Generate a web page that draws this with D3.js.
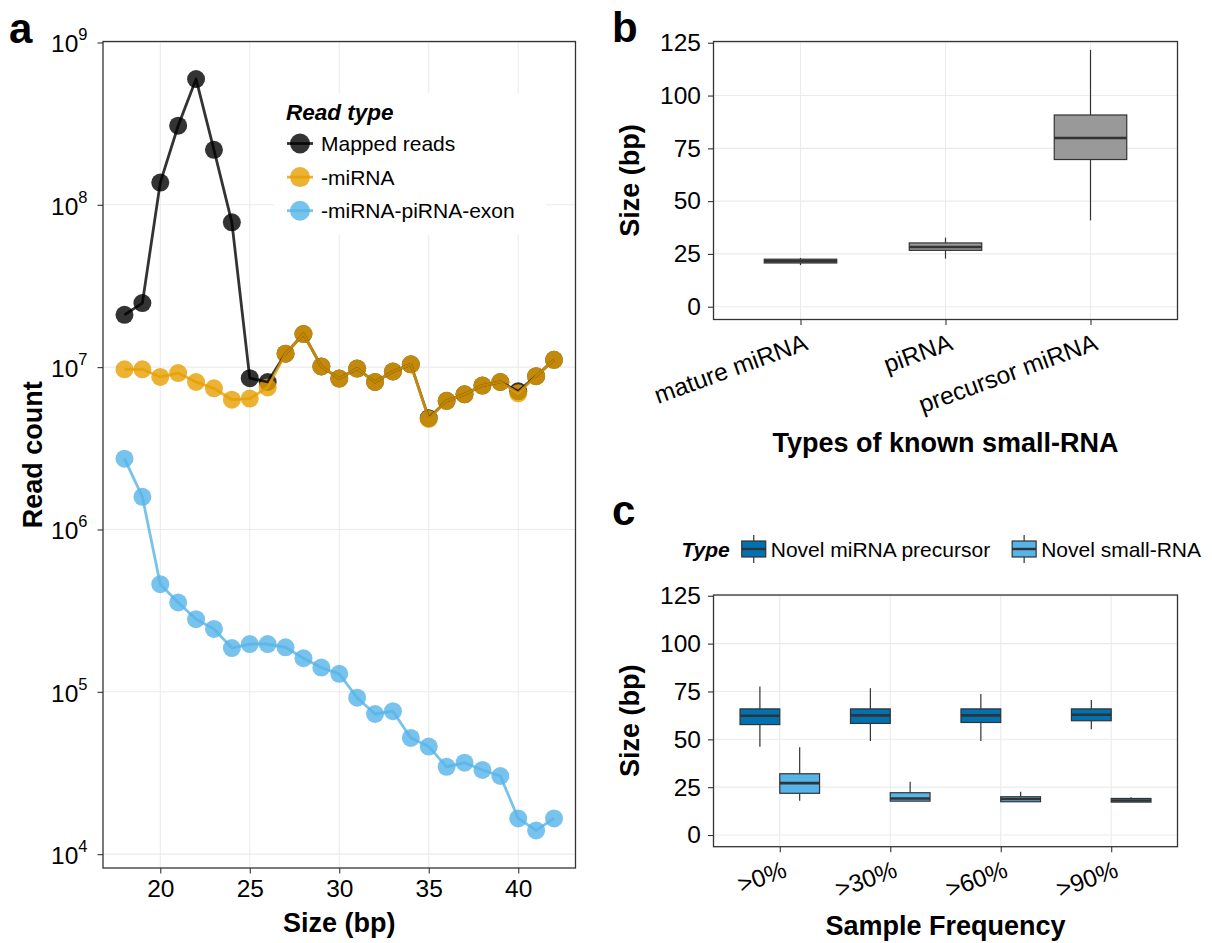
<!DOCTYPE html>
<html>
<head>
<meta charset="utf-8">
<script src="https://cdn.jsdelivr.net/npm/d3@7"></script>
<style>
body { margin: 0; background: #fff; }
svg { display: block; font-family: "Liberation Sans", Arial, Helvetica, sans-serif; }
</style>
</head>
<body>
<div id="chart"></div>
<script>
// panel a: read length distribution
const readSizes = [18, 19, 20, 21, 22, 23, 24, 25, 26, 27, 28, 29, 30, 31, 32, 33, 34, 35, 36, 37, 38, 39, 40, 41, 42]
const mappedReads = [2.1e7, 2.48e7, 1.37e8, 3.07e8, 5.95e8, 2.18e8, 7.8e7, 8.55e6, 8.1e6, 1.21e7, 1.6e7, 1.01e7, 8.5e6, 9.8e6, 8.1e6, 9.4e6, 1.04e7, 4.85e6, 6.2e6, 6.8e6, 7.7e6, 8.1e6, 7.1e6, 8.8e6, 1.11e7]
const minusMiRNA = [9.7e6, 9.7e6, 8.7e6, 9.2e6, 8.1e6, 7.4e6, 6.3e6, 6.4e6, 7.5e6, 1.21e7, 1.6e7, 1.01e7, 8.5e6, 9.8e6, 8.1e6, 9.4e6, 1.04e7, 4.8e6, 6.2e6, 6.8e6, 7.7e6, 8.1e6, 6.9e6, 8.8e6, 1.11e7]
const minusMiRNAPiRNAExon = [2.73e6, 1.59e6, 4.6e5, 3.55e5, 2.8e5, 2.44e5, 1.86e5, 1.97e5, 1.97e5, 1.88e5, 1.61e5, 1.41e5, 1.29e5, 9.2e4, 7.3e4, 7.6e4, 5.2e4, 4.6e4, 3.45e4, 3.66e4, 3.3e4, 3.03e4, 1.66e4, 1.4e4, 1.66e4]
const readTypeNames = ['Mapped reads', '-miRNA', '-miRNA-piRNA-exon']
const readTypeColors = ['#000000', '#E69F00', '#56B4E9']
const sizeTicks = [20, 25, 30, 35, 40]
const countTicks = [1e4, 1e5, 1e6, 1e7, 1e8, 1e9]

// panel b: known small RNA sizes [whisker low, q1, median, q3, whisker high]
const knownTypes = ['mature miRNA', 'piRNA', 'precursor miRNA']
const knownStats = [
    [19.7, 20.7, 21.6, 22.5, 23.1],
    [22.8, 26.7, 28.3, 30.2, 32.7],
    [40.9, 69.7, 79.9, 90.8, 121.6]
]
const bpTicks = [0, 25, 50, 75, 100, 125]

// panel c: novel small RNA sizes by sample frequency
const freqLabels = ['>0%', '>30%', '>60%', '>90%']
const novelTypes = ['Novel miRNA precursor', 'Novel small-RNA']
const novelColors = ['#0072B2', '#56B4E9']
const novelPrecursorStats = [
    [46.1, 57.7, 62.3, 65.9, 77.6],
    [49.1, 58.3, 62.5, 65.9, 76.7],
    [49.1, 58.8, 62.5, 65.9, 73.7],
    [55.2, 59.7, 62.8, 65.9, 70.6]
]
const novelSmallStats = [
    [17.9, 21.8, 27.1, 32.0, 45.8],
    [17.7, 17.7, 19.1, 22.1, 27.8],
    [17.4, 17.4, 18.8, 20.0, 22.6],
    [17.2, 17.2, 18.0, 19.1, 19.7]
]

const W = 1212, H = 943
const GRID = '#ebebeb', INK = '#333333'
const TICK_FS = 24.5, TITLE_FS = 27, LEG_FS = 21

const svg = d3.select('#chart').append('svg')
    .attr('width', W).attr('height', H)
    .attr('viewBox', `0 0 ${W} ${H}`)

function styleAxis(g) {
    g.attr('font-size', null).attr('font-family', null)
    g.select('.domain').remove()
    g.selectAll('.tick line').attr('stroke', INK).attr('stroke-width', 1.1)
    g.selectAll('.tick text').attr('fill', '#000').attr('font-size', TICK_FS)
}

function frame(g, box) {
    g.append('rect')
        .attr('x', box.left).attr('y', box.top)
        .attr('width', box.right - box.left).attr('height', box.bottom - box.top)
        .attr('fill', 'none').attr('stroke', INK).attr('stroke-width', 1.3)
}

function gridLines(g, box, xs, ys) {
    g.selectAll(null).data(xs).enter().append('line')
        .attr('x1', d => d).attr('x2', d => d).attr('y1', box.top).attr('y2', box.bottom)
        .attr('stroke', GRID).attr('stroke-width', 1.1)
    g.selectAll(null).data(ys).enter().append('line')
        .attr('y1', d => d).attr('y2', d => d).attr('x1', box.left).attr('x2', box.right)
        .attr('stroke', GRID).attr('stroke-width', 1.1)
}

function panelLabel(text, x, y) {
    svg.append('text').attr('x', x).attr('y', y)
        .attr('font-size', 42).attr('font-weight', 'bold').text(text)
}

function boxplot(g, cx, w, s, y, fill) {
    g.append('line').attr('x1', cx).attr('x2', cx).attr('y1', y(s[0])).attr('y2', y(s[1]))
        .attr('stroke', INK).attr('stroke-width', 1.2)
    g.append('line').attr('x1', cx).attr('x2', cx).attr('y1', y(s[3])).attr('y2', y(s[4]))
        .attr('stroke', INK).attr('stroke-width', 1.2)
    g.append('rect').attr('x', cx - w / 2).attr('width', w)
        .attr('y', y(s[3])).attr('height', Math.max(0, y(s[1]) - y(s[3])))
        .attr('fill', fill).attr('stroke', INK).attr('stroke-width', 1.2)
    g.append('line').attr('x1', cx - w / 2).attr('x2', cx + w / 2)
        .attr('y1', y(s[2])).attr('y2', y(s[2]))
        .attr('stroke', INK).attr('stroke-width', 2.6)
}

// ---------------- panel a ----------------
const boxA = { left: 103, right: 575.5, top: 41.5, bottom: 868 }
const gA = svg.append('g')

const xExt = d3.extent(readSizes)
const xPad = (xExt[1] - xExt[0]) * 0.05
const xA = d3.scaleLinear().domain([xExt[0] - xPad, xExt[1] + xPad]).range([boxA.left, boxA.right])

const allCounts = mappedReads.concat(minusMiRNA, minusMiRNAPiRNAExon)
const logExt = d3.extent(allCounts, d => Math.log10(d))
const logPad = (logExt[1] - logExt[0]) * 0.05
const yA = d3.scaleLog().domain([10 ** (logExt[0] - logPad), 10 ** (logExt[1] + logPad)]).range([boxA.bottom, boxA.top])

gridLines(gA, boxA, sizeTicks.map(xA), countTicks.map(yA))

const seriesA = [mappedReads, minusMiRNA, minusMiRNAPiRNAExon]
const rgba = (c, a) => { const k = d3.color(c); k.opacity = a; return k + '' }

seriesA.forEach((vals, i) => {
    gA.append('g').selectAll('circle').data(vals).enter().append('circle')
        .attr('cx', (d, j) => xA(readSizes[j]))
        .attr('cy', d => yA(d))
        .attr('r', 9)
        .attr('fill', rgba(readTypeColors[i], 0.8))
})
const line = d3.line().x((d, j) => xA(readSizes[j])).y(d => yA(d))
seriesA.forEach((vals, i) => {
    gA.append('path').datum(vals).attr('d', line)
        .attr('fill', 'none').attr('stroke', rgba(readTypeColors[i], 0.8))
        .attr('stroke-width', 2.8).attr('stroke-linejoin', 'round')
})

// legend a
const legA = gA.append('g')
legA.append('rect').attr('x', 274).attr('y', 93).attr('width', 272).attr('height', 142).attr('fill', '#fff')
legA.append('text').attr('x', 286).attr('y', 119.5)
    .attr('font-size', 22.5).attr('font-weight', 'bold').attr('font-style', 'italic').text('Read type')
readTypeNames.forEach((name, i) => {
    const cy = 143.5 + i * 33.6
    legA.append('circle').attr('cx', 300).attr('cy', cy).attr('r', 10)
        .attr('fill', rgba(readTypeColors[i], 0.8))
    legA.append('line').attr('x1', 287).attr('x2', 313).attr('y1', cy).attr('y2', cy)
        .attr('stroke', rgba(readTypeColors[i], 0.8)).attr('stroke-width', 2.8)
    legA.append('text').attr('x', 321).attr('y', cy).attr('dy', '0.36em')
        .attr('font-size', LEG_FS).text(name)
})

frame(gA, boxA)

const axAy = gA.append('g').attr('transform', `translate(${boxA.left},0)`)
    .call(d3.axisLeft(yA).tickValues(countTicks).tickSize(5.5).tickPadding(10).tickFormat(() => ''))
styleAxis(axAy)
axAy.selectAll('.tick text').each(function (d) {
    const t = d3.select(this).attr('dy', '0.38em')
    t.append('tspan').text('10')
    t.append('tspan').attr('dy', '-0.72em').attr('font-size', 16.5).text(Math.round(Math.log10(d)))
})
const axAx = gA.append('g').attr('transform', `translate(0,${boxA.bottom})`)
    .call(d3.axisBottom(xA).tickValues(sizeTicks).tickSize(5.5).tickPadding(6.5))
styleAxis(axAx)

gA.append('text').attr('x', (boxA.left + boxA.right) / 2).attr('y', 932)
    .attr('text-anchor', 'middle').attr('font-size', TITLE_FS).attr('font-weight', 'bold').text('Size (bp)')
gA.append('text').attr('transform', `translate(42,${(boxA.top + boxA.bottom) / 2}) rotate(-90)`)
    .attr('text-anchor', 'middle').attr('font-size', TITLE_FS).attr('font-weight', 'bold').text('Read count')

panelLabel('a', 9, 43)

// ---------------- panel b ----------------
const boxB = { left: 713.5, right: 1177.5, top: 41.5, bottom: 319.5 }
const gB = svg.append('g')
const xB = d3.scalePoint().domain(knownTypes).range([boxB.left, boxB.right]).padding(0.6)
const yB = d3.scaleLinear().domain([-6.06, 125.6]).range([boxB.bottom, boxB.top])

gridLines(gB, boxB, knownTypes.map(xB), bpTicks.map(yB))
knownTypes.forEach((t, i) => boxplot(gB, xB(t), xB.step() * 0.5, knownStats[i], yB, '#999999'))
frame(gB, boxB)

const axBy = gB.append('g').attr('transform', `translate(${boxB.left},0)`)
    .call(d3.axisLeft(yB).tickValues(bpTicks).tickSize(5.5).tickPadding(7))
styleAxis(axBy)
const axBx = gB.append('g').attr('transform', `translate(0,${boxB.bottom})`)
    .call(d3.axisBottom(xB).tickSize(5.5))
styleAxis(axBx)
axBx.selectAll('.tick text')
    .attr('y', 0).attr('dy', '0.72em').attr('text-anchor', 'end')
    .attr('transform', 'translate(2,13) rotate(-20)')

gB.append('text').attr('x', (boxB.left + boxB.right) / 2).attr('y', 452)
    .attr('text-anchor', 'middle').attr('font-size', TITLE_FS).attr('font-weight', 'bold').text('Types of known small-RNA')
gB.append('text').attr('transform', `translate(639,${(boxB.top + boxB.bottom) / 2}) rotate(-90)`)
    .attr('text-anchor', 'middle').attr('font-size', TITLE_FS).attr('font-weight', 'bold').text('Size (bp)')

panelLabel('b', 612, 42)

// ---------------- panel c ----------------
const boxC = { left: 713.5, right: 1177.5, top: 595, bottom: 846.7 }
const gC = svg.append('g')
const xC = d3.scalePoint().domain(freqLabels).range([boxC.left, boxC.right]).padding(0.6)
const yC = d3.scaleLinear().domain([-6.1, 125.4]).range([boxC.bottom, boxC.top])

gridLines(gC, boxC, freqLabels.map(xC), bpTicks.map(yC))
const novelStats = [novelPrecursorStats, novelSmallStats]
const bw = xC.step() * 0.36
freqLabels.forEach((f, i) => {
    novelStats.forEach((stats, k) => {
        const cx = xC(f) + (k === 0 ? -1 : 1) * bw / 2
        boxplot(gC, cx, bw, stats[i], yC, novelColors[k])
    })
})
frame(gC, boxC)

const axCy = gC.append('g').attr('transform', `translate(${boxC.left},0)`)
    .call(d3.axisLeft(yC).tickValues(bpTicks).tickSize(5.5).tickPadding(7))
styleAxis(axCy)
const axCx = gC.append('g').attr('transform', `translate(0,${boxC.bottom})`)
    .call(d3.axisBottom(xC).tickSize(5.5))
styleAxis(axCx)
axCx.selectAll('.tick text')
    .attr('y', 0).attr('dy', '0.72em').attr('text-anchor', 'end')
    .attr('transform', 'translate(2,13) rotate(-20)')

gC.append('text').attr('x', (boxC.left + boxC.right) / 2).attr('y', 935)
    .attr('text-anchor', 'middle').attr('font-size', TITLE_FS).attr('font-weight', 'bold').text('Sample Frequency')
gC.append('text').attr('transform', `translate(639,${(boxC.top + boxC.bottom) / 2}) rotate(-90)`)
    .attr('text-anchor', 'middle').attr('font-size', TITLE_FS).attr('font-weight', 'bold').text('Size (bp)')

// legend c
const legC = gC.append('g')
const legY = 549
let cursor = 681.5
const legTitle = legC.append('text').attr('x', cursor).attr('y', legY).attr('dy', '0.36em')
    .attr('font-size', LEG_FS).attr('font-weight', 'bold').attr('font-style', 'italic').text('Type')
cursor += legTitle.node().getComputedTextLength() + 12
novelTypes.forEach((name, k) => {
    const kx = cursor + 12
    legC.append('line').attr('x1', kx).attr('x2', kx).attr('y1', legY - 14).attr('y2', legY + 14)
        .attr('stroke', INK).attr('stroke-width', 1.2)
    legC.append('rect').attr('x', cursor).attr('y', legY - 8).attr('width', 24).attr('height', 16)
        .attr('fill', novelColors[k]).attr('stroke', INK).attr('stroke-width', 1.2)
    legC.append('line').attr('x1', cursor).attr('x2', cursor + 24).attr('y1', legY).attr('y2', legY)
        .attr('stroke', INK).attr('stroke-width', 2.4)
    const t = legC.append('text').attr('x', cursor + 29).attr('y', legY).attr('dy', '0.36em')
        .attr('font-size', LEG_FS).text(name)
    cursor += 29 + t.node().getComputedTextLength() + 22
})

panelLabel('c', 612, 525)
</script>
</body>
</html>
